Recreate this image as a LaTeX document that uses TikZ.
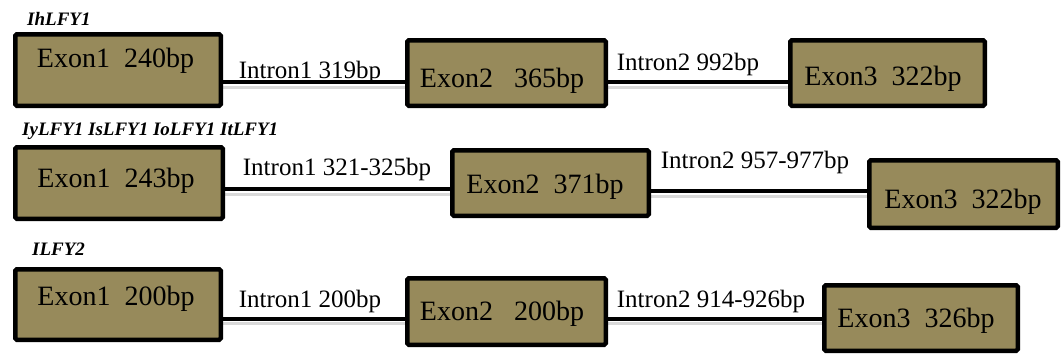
\documentclass[tikz,border=0pt]{standalone}
\usepackage{fontspec}
\setmainfont{Liberation Serif}
\usetikzlibrary{backgrounds}
\definecolor{exonfill}{RGB}{151,138,91}
\begin{document}
\begin{tikzpicture}[x=1pt,y=-1pt,
  exonbox/.style={draw=black, line width=4.5pt, fill=exonfill, rounded corners=1.5pt, inner sep=0pt, outer sep=0pt},
  exontext/.style={anchor=base, font=\fontsize{28}{30}\selectfont, inner sep=0pt},
  introntext/.style={anchor=base, font=\fontsize{25}{27}\selectfont, inner sep=0pt},
  genelabel/.style={anchor=base west, font=\fontsize{19}{21}\selectfont\bfseries\itshape, inner sep=0pt},
  intron/.style={line width=4pt},
  shadowline/.style={line width=3pt, black!15}]
\useasboundingbox (0,0) rectangle (1062,354);

% ---- Row 1 ----
\node[genelabel] (g1) at (27,25) {IhLFY1};
\node[exonbox, minimum width=205.5pt, minimum height=71.5pt] (e11) at (118,70) {};
\node[exonbox, minimum width=198.5pt, minimum height=65.5pt] (e12) at (506.5,73) {};
\node[exonbox, minimum width=194.5pt, minimum height=65.5pt] (e13) at (887.5,73) {};
\node[exontext] (t11) at (115.5,67) {Exon1~~240bp};
\node[exontext] (t12) at (502,87) {Exon2~~~365bp};
\node[exontext] (t13) at (883,85) {Exon3~~322bp};
\node[introntext] (i11) at (310,78) {Intron1 319bp};
\node[introntext] (i12) at (688,70) {Intron2 992bp};
\coordinate (r1) at (0,82);

% ---- Row 2 ----
\node[genelabel] (g2) at (22,135) {IyLFY1 IsLFY1 IoLFY1 ItLFY1};
\node[exonbox, minimum width=207.5pt, minimum height=71.5pt] (e21) at (119,183) {};
\node[exonbox, minimum width=196.5pt, minimum height=65.5pt] (e22) at (550.5,183) {};
\node[exonbox, minimum width=188.5pt, minimum height=67.5pt] (e23) at (963.5,194) {};
\node[exontext] (t21) at (116,187) {Exon1~~243bp};
\node[exontext] (t22) at (545,193) {Exon2~~371bp};
\node[exontext] (t23) at (963,208) {Exon3~~322bp};
\node[introntext] (i21) at (337,175) {Intron1 321-325bp};
\node[introntext] (i22) at (755,168) {Intron2 957-977bp};
\coordinate (r2a) at (0,189);
\coordinate (r2b) at (0,191);

% ---- Row 3 ----
\node[genelabel] (g3) at (32,255) {ILFY2};
\node[exonbox, minimum width=205.5pt, minimum height=70.5pt] (e31) at (118,304.5) {};
\node[exonbox, minimum width=198.5pt, minimum height=66.5pt] (e32) at (506.5,311.5) {};
\node[exonbox, minimum width=193.5pt, minimum height=65.5pt] (e33) at (921,318) {};
\node[exontext] (t31) at (116,305) {Exon1~~200bp};
\node[exontext] (t32) at (502,320) {Exon2~~~200bp};
\node[exontext] (t33) at (916,327) {Exon3~~326bp};
\node[introntext] (i31) at (310,307) {Intron1 200bp};
\node[introntext] (i32) at (711,307) {Intron2 914-926bp};
\coordinate (r3) at (0,318.5);

% ---- Connectors ----
\begin{scope}[on background layer]
  \draw[shadowline] ([yshift=-5pt]e11.east |- r1) -- ([yshift=-5pt]e12.west |- r1);
  \draw[shadowline] ([yshift=-5pt]e12.east |- r1) -- ([yshift=-5pt]e13.west |- r1);
  \draw[shadowline] ([yshift=-5pt]e21.east |- r2a) -- ([yshift=-5pt]e22.west |- r2a);
  \draw[shadowline] ([yshift=-5pt]e22.east |- r2b) -- ([yshift=-5pt]e23.west |- r2b);
  \draw[shadowline] ([yshift=-5pt]e31.east |- r3) -- ([yshift=-5pt]e32.west |- r3);
  \draw[shadowline] ([yshift=-5pt]e32.east |- r3) -- ([yshift=-5pt]e33.west |- r3);
  \draw[intron] (e11.east |- r1) -- (e12.west |- r1);
  \draw[intron] (e12.east |- r1) -- (e13.west |- r1);
  \draw[intron] (e21.east |- r2a) -- (e22.west |- r2a);
  \draw[intron] (e22.east |- r2b) -- (e23.west |- r2b);
  \draw[intron] (e31.east |- r3) -- (e32.west |- r3);
  \draw[intron] (e32.east |- r3) -- (e33.west |- r3);
\end{scope}
\end{tikzpicture}
\end{document}
